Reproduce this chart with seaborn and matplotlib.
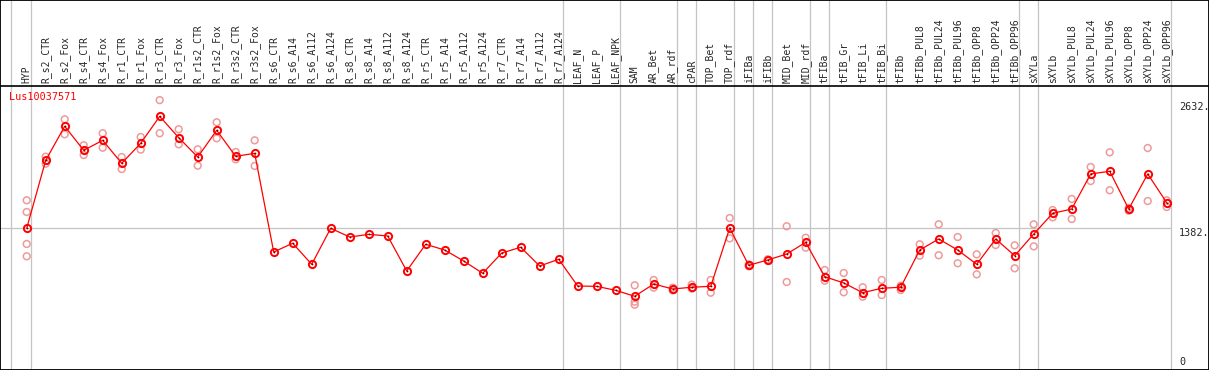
import matplotlib
matplotlib.use("Agg")
import matplotlib.pyplot as plt
import numpy as np
import pandas as pd
import seaborn as sns

gene = "Lus10037571"

samples = [
    "HYP", "R_s2_CTR", "R_s2_Fox", "R_s4_CTR", "R_s4_Fox", "R_r1_CTR", "R_r1_Fox",
    "R_r3_CTR", "R_r3_Fox", "R_r1s2_CTR", "R_r1s2_Fox", "R_r3s2_CTR", "R_r3s2_Fox",
    "R_s6_CTR", "R_s6_A14", "R_s6_A112", "R_s6_A124", "R_s8_CTR", "R_s8_A14",
    "R_s8_A112", "R_s8_A124", "R_r5_CTR", "R_r5_A14", "R_r5_A112", "R_r5_A124",
    "R_r7_CTR", "R_r7_A14", "R_r7_A112", "R_r7_A124", "LEAF_N", "LEAF_P", "LEAF_NPK",
    "SAM", "AR_Bet", "AR_rdf", "cPAR", "TOP_Bet", "TOP_rdf", "iFIBa", "iFIBb",
    "MID_Bet", "MID_rdf", "tFIBa", "tFIB_Gr", "tFIB_Li", "tFIB_Bi", "tFIBb",
    "tFIBb_PUL8", "tFIBb_PUL24", "tFIBb_PUL96", "tFIBb_OPP8", "tFIBb_OPP24", "tFIBb_OPP96",
    "sXYLa", "sXYLb", "sXYLb_PUL8", "sXYLb_PUL24", "sXYLb_PUL96", "sXYLb_OPP8",
    "sXYLb_OPP24", "sXYLb_OPP96",
]

mean_expr = [
    1382, 2045, 2377, 2143, 2240, 2016, 2211, 2474, 2266, 2077, 2338, 2084, 2113,
    1151, 1236, 1031, 1382, 1297, 1323, 1307, 966, 1226, 1170, 1063, 943,
    1141, 1197, 1014, 1080, 819, 816, 777,
    719, 839, 790, 807, 816, 1385, 1021, 1073,
    1131, 1245, 910, 849, 754, 797, 807,
    1170, 1278, 1170, 1031, 1278, 1115,
    1326, 1528, 1570, 1912, 1938, 1570, 1912, 1632,
]

# single replicates (empty where only the mean is drawn)
replicates = [
    [1655, 1541, 1229, 1109], [2080, 2012], [2445, 2299], [2192, 2097], [2309, 2168],
    [2077, 1960], [2272, 2149], [2632, 2309], [2348, 2201], [2152, 1993], [2416, 2260],
    [2126, 2055], [2240, 1990],
    [], [], [], [], [], [], [], [], [], [], [], [], [], [], [], [], [], [], [],
    [826, 666, 637], [878, 803], [803, 777], [832, 793], [878, 754], [1482, 1284],
    [1030, 1012], [1080, 1065], [1402, 858], [1290, 1193], [975, 871], [946, 758],
    [807, 715], [878, 731], [822, 780],
    [1226, 1115], [1421, 1119], [1297, 1041], [1128, 933], [1336, 1219], [1216, 992],
    [1421, 1206], [1560, 1489], [1668, 1473], [1980, 1843], [2123, 1753], [1580, 1554],
    [2165, 1648], [1655, 1590],
]

# index of last sample in each block (grey separators)
group_ends = [0, 28, 31, 34, 35, 37, 38, 39, 41, 42, 45, 52, 53, 60]

y_ticks = [2632, 1382, 0]

main = pd.DataFrame({"x": np.arange(len(samples)), "expr": mean_expr})
reps = pd.DataFrame(
    [(i, v) for i, vals in enumerate(replicates) for v in vals], columns=["x", "expr"]
)

sns.set_style("white")
plt.rcParams["font.family"] = ["DejaVu Sans Mono", "DejaVu Sans"]

W, H = 1209, 370
fig = plt.figure(figsize=(W / 100, H / 100), dpi=100)
ax = fig.add_axes([0, 0, 1, 1])


# pixel -> data helpers for the layout
def px(x):
    return (x - 26.7) / 19


def py(y):
    return 1382 * (370 - y) / (370 - 228.3)


ax.set_xlim(px(0), px(W))
ax.set_ylim(py(H), py(0))

grey = "#c4c4c4"
ax.axvline(px(10.7), color=grey, lw=0.9, zorder=0)
for g in group_ends:
    ax.axvline(g + 4 / 19, color=grey, lw=0.9, zorder=0)
ax.hlines(y_ticks[1], px(0), px(1170.7), color=grey, lw=0.9, zorder=0)
ax.axhline(py(86), color="black", lw=1.2, zorder=1)

sns.scatterplot(data=reps, x="x", y="expr", ax=ax, marker="o", s=24,
                facecolor="none", edgecolor="#ee9a9a", linewidth=1.1, zorder=2)
sns.lineplot(data=main, x="x", y="expr", ax=ax, color="red", lw=0.9, zorder=3,
             marker="o", markersize=5.2, markerfacecolor="none",
             markeredgecolor="red", markeredgewidth=1.4)
ax.scatter(main["x"], main["expr"], marker="+", s=4, color="#700000", lw=0.5, zorder=4)

for i, name in enumerate(samples):
    ax.text(i, py(83), name, rotation=90, ha="center", va="bottom", fontsize=7)

ax.text(px(9), py(97.5), gene, color="red", fontsize=7.3, ha="left", va="center")

for v, ypx in zip(y_ticks, [107, 232.5, 362]):
    lab = f"{v}." if v else "0"
    ax.text(px(1179), py(ypx), lab, fontsize=7.3, ha="left", va="center")

ax.set_xlabel("")
ax.set_ylabel("")
ax.set_xticks([])
ax.set_yticks([])
for s in ax.spines.values():
    s.set_visible(True)
    s.set_color("black")
    s.set_linewidth(1.3)

fig.savefig("out.png", dpi=100)
